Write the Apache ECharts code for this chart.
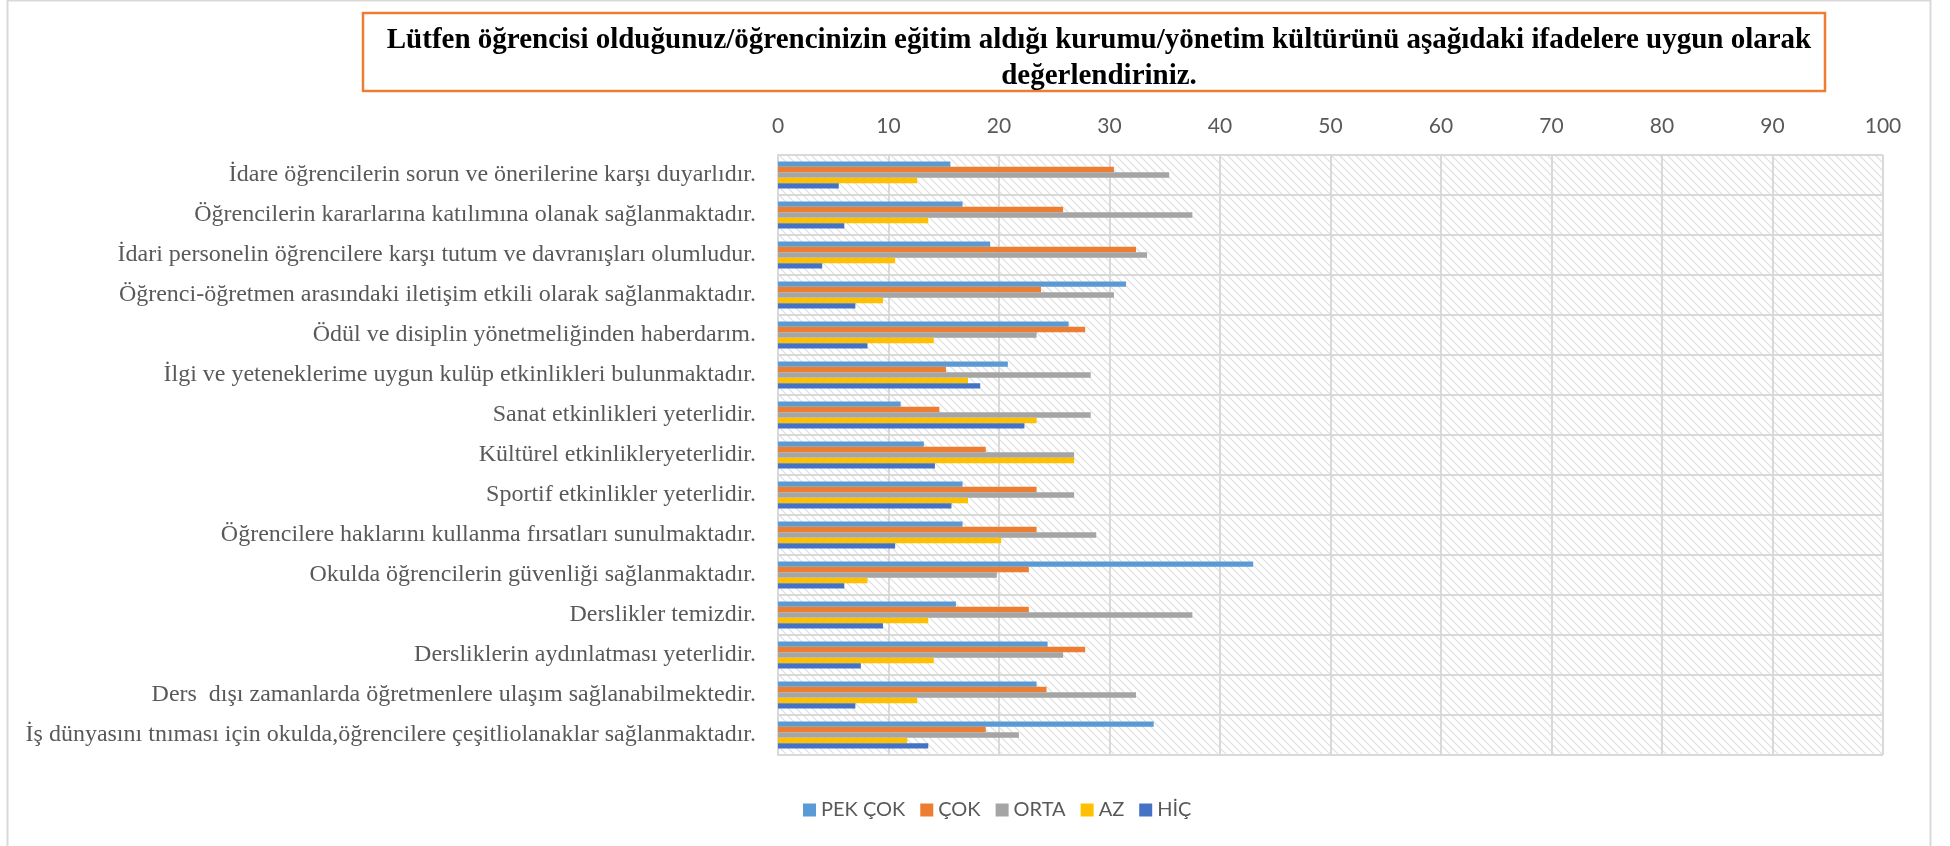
<!DOCTYPE html>
<html>
<head>
<meta charset="utf-8">
<script src="https://cdn.jsdelivr.net/npm/echarts@6/dist/echarts.min.js"></script>
<style>
html,body{margin:0;padding:0;background:#fff;}
#main{width:1950px;height:846px;}
</style>
</head>
<body>
<div id="main"></div>
<script>
// kategoriler (yukaridan asagiya)
var categories = [
	'İdare öğrencilerin sorun ve önerilerine karşı duyarlıdır.',
	'Öğrencilerin kararlarına katılımına olanak sağlanmaktadır.',
	'İdari personelin öğrencilere karşı tutum ve davranışları olumludur.',
	'Öğrenci-öğretmen arasındaki iletişim etkili olarak sağlanmaktadır.',
	'Ödül ve disiplin yönetmeliğinden haberdarım.',
	'İlgi ve yeteneklerime uygun kulüp etkinlikleri bulunmaktadır.',
	'Sanat etkinlikleri yeterlidir.',
	'Kültürel etkinlikleryeterlidir.',
	'Sportif etkinlikler yeterlidir.',
	'Öğrencilere haklarını kullanma fırsatları sunulmaktadır.',
	'Okulda öğrencilerin güvenliği sağlanmaktadır.',
	'Derslikler temizdir.',
	'Dersliklerin aydınlatması yeterlidir.',
	'Ders  dışı zamanlarda öğretmenlere ulaşım sağlanabilmektedir.',
	'İş dünyasını tnıması için okulda,öğrencilere çeşitliolanaklar sağlanmaktadır.'
];
var seriesNames = ['PEK ÇOK', 'ÇOK', 'ORTA', 'AZ', 'HİÇ'];
var pekCok = [15.6, 16.7, 19.2, 31.5, 26.3, 20.8, 11.1, 13.2, 16.7, 16.7, 43.0, 16.1, 24.4, 23.4, 34.0];
var cok    = [30.4, 25.8, 32.4, 23.8, 27.8, 15.2, 14.6, 18.8, 23.4, 23.4, 22.7, 22.7, 27.8, 24.3, 18.8];
var orta   = [35.4, 37.5, 33.4, 30.4, 23.4, 28.3, 28.3, 26.8, 26.8, 28.8, 19.8, 37.5, 25.8, 32.4, 21.8];
var az     = [12.6, 13.6, 10.6, 9.5, 14.1, 17.2, 23.4, 26.8, 17.2, 20.2, 8.1, 13.6, 14.1, 12.6, 11.7];
var hic    = [5.5, 6.0, 4.0, 7.0, 8.1, 18.3, 22.3, 14.2, 15.7, 10.6, 6.0, 9.5, 7.5, 7.0, 13.6];
var xTicks = [0, 10, 20, 30, 40, 50, 60, 70, 80, 90, 100];
var colors = ['#5B9BD5', '#ED7D31', '#A5A5A5', '#FFC000', '#4472C4'];

// tarama deseni
function makeHatch() {
	var s = 8;
	var c = document.createElement('canvas');
	c.width = s; c.height = s;
	var ctx = c.getContext('2d');
	ctx.fillStyle = '#ffffff';
	ctx.fillRect(0, 0, s, s);
	ctx.strokeStyle = '#dedede';
	ctx.lineWidth = 1.2;
	ctx.beginPath();
	ctx.moveTo(-1, -1); ctx.lineTo(s + 1, s + 1);
	ctx.moveTo(-s - 1, -1); ctx.lineTo(1, s + 1);
	ctx.moveTo(s - 1, -1); ctx.lineTo(2 * s + 1, s + 1);
	ctx.stroke();
	return c;
}

var allData = [pekCok, cok, orta, az, hic];
var series = [];
for (var i = 0; i < seriesNames.length; i++) {
	series.push({
		name: seriesNames[i],
		type: 'bar',
		data: allData[i],
		barGap: '0%',
		barCategoryGap: '32%',
		itemStyle: {color: colors[i]}
	});
}

var myChart = echarts.init(document.getElementById('main'));
myChart.setOption({
	animation: false,
	title: {
		text: 'Lütfen öğrencisi olduğunuz/öğrencinizin eğitim aldığı kurumu/yönetim kültürünü aşağıdaki ifadelere uygun olarak\ndeğerlendiriniz.',
		left: 1094,
		top: 18,
		textAlign: 'center',
		textStyle: {
			fontFamily: 'Liberation Serif',
			fontWeight: 'bold',
			fontSize: 29,
			lineHeight: 36,
			color: '#000'
		}
	},
	graphic: [
		{type: 'rect', shape: {x: 7.5, y: 0.5, width: 1923, height: 860}, style: {fill: 'none', stroke: '#d9d9d9', lineWidth: 2}, silent: true},
		{type: 'rect', shape: {x: 363, y: 13, width: 1462, height: 78}, style: {fill: 'none', stroke: '#ED7D31', lineWidth: 2.5}, silent: true}
	],
	legend: {
		data: seriesNames,
		left: 798,
		top: 795,
		itemWidth: 13,
		itemHeight: 13,
		itemGap: 15,
		icon: 'rect',
		textStyle: {fontFamily: 'Lato', fontSize: 20, color: '#595959'}
	},
	grid: {
		left: 778,
		right: 67,
		top: 155,
		bottom: 91,
		show: true,
		borderWidth: 0,
		backgroundColor: {image: makeHatch(), repeat: 'repeat'}
	},
	xAxis: {
		type: 'value',
		position: 'top',
		min: xTicks[0],
		max: xTicks[xTicks.length - 1],
		interval: 10,
		axisLine: {show: false},
		axisTick: {show: false},
		axisLabel: {fontFamily: 'Lato', fontSize: 21, color: '#595959', margin: 18},
		splitLine: {lineStyle: {color: '#d9d9d9', width: 2}}
	},
	yAxis: {
		type: 'category',
		inverse: true,
		data: categories,
		axisLine: {lineStyle: {color: '#d9d9d9', width: 2}},
		axisTick: {length: 7, lineStyle: {color: '#d9d9d9', width: 2}},
		axisLabel: {fontFamily: 'Liberation Serif', fontSize: 24, color: '#595959', margin: 22},
		splitLine: {show: true, lineStyle: {color: '#d9d9d9', width: 2}}
	},
	series: series
});
</script>
</body>
</html>
